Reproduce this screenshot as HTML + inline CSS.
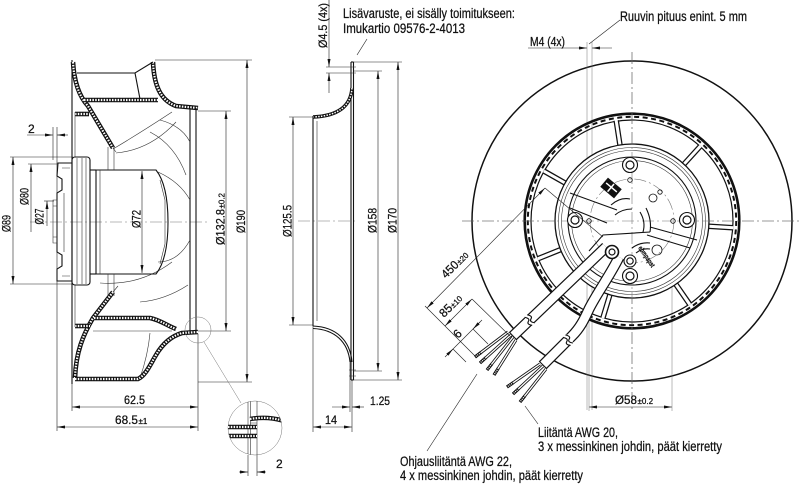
<!DOCTYPE html>
<html><head><meta charset="utf-8">
<style>
html,body{margin:0;padding:0;background:#fff;}
svg{display:block}
text{font-family:"Liberation Sans",sans-serif;fill:#111;stroke:#111;stroke-width:0.25}
.o{fill:none;stroke:#111;stroke-width:1.1}
.t{fill:none;stroke:#333;stroke-width:0.6}
.d{fill:none;stroke:#222;stroke-width:0.6}
.g{fill:none;stroke:#777;stroke-width:0.5}
.c{fill:none;stroke:#777;stroke-width:0.6;stroke-dasharray:12 3 2 3}
.hb{fill:none;stroke:#111;stroke-width:4.6}
.hw{fill:none;stroke:#fff;stroke-width:2.2;stroke-dasharray:1.5 1.3}
.cb{fill:none;stroke:#111;stroke-width:11;stroke-linecap:butt}
.cw{fill:none;stroke:#fff;stroke-width:8.6;stroke-linecap:butt}
.wb{fill:none;stroke:#111;stroke-width:3}
.ww{fill:none;stroke:#fff;stroke-width:1.3}
.sb{fill:none;stroke:#111;stroke-width:3.2}
.sw{fill:none;stroke:#fff;stroke-width:1.3;stroke-dasharray:1 1}
</style></head><body>
<svg width="800" height="484" viewBox="0 0 800 484" xmlns="http://www.w3.org/2000/svg">
<defs>
<marker id="a" viewBox="0 0 8 3" refX="8" refY="1.5" markerWidth="8" markerHeight="3" markerUnits="userSpaceOnUse" orient="auto-start-reverse"><path d="M0,0 L8,1.5 L0,3 z" fill="#111"/></marker>
<path id="b1" d="M73,62 C74,80 78,95 88,106 L113,148"/>
<path id="b2" d="M84,100 L158,100"/>
<path id="b3" d="M153,62 C154,85 160,100 176,106 L198,108"/>
<path id="b4" d="M113,292 L93,318 C83,335 76,352 75,378"/>
<path id="b5" d="M75,379 L138,379 C146,375 150,365 156,355 C163,343 172,336 182,333 L198,332"/>
<path id="b6" d="M94,318 L150,318 C160,320 166,325 176,329"/>
<path id="b7" d="M75,114 L89,114"/>
<path id="b8" d="M75,326 L90,326"/>
<path id="b9" d="M352,88 C351,106 338,116 313,117"/>
<path id="d1" d="M228,427 L257,427"/>
<path id="d2" d="M228,436 L257,436"/>
<path id="d3" d="M250,419 Q268,416 284,421"/>
<path id="c1" d="M606,247 L513,336"/>
<path id="c2" d="M619,257 C611,274 597,293 589,309 C584,320 580,328 572,336 L543,365"/>
<clipPath id="dc"><circle cx="255" cy="428" r="27"/></clipPath>
</defs>

<!-- ============ CENTER LINES ============ -->
<line class="c" x1="30" y1="222" x2="210" y2="222"/>
<line class="c" x1="298" y1="221" x2="358" y2="221"/>
<line class="c" x1="462" y1="221" x2="800" y2="221"/>
<line class="c" x1="632" y1="52" x2="632" y2="412"/>

<!-- ============ SIDE VIEW ============ -->
<line class="o" x1="72" y1="60" x2="72" y2="384"/>
<g>
<use href="#b1" class="hb"/><use href="#b1" class="hw"/>
<use href="#b2" class="hb"/><use href="#b2" class="hw"/>
<use href="#b3" class="hb"/><use href="#b3" class="hw"/>
<use href="#b4" class="hb"/><use href="#b4" class="hw"/>
<use href="#b5" class="hb"/><use href="#b5" class="hw"/>
<use href="#b6" class="hb"/><use href="#b6" class="hw"/>
<use href="#b7" class="hb"/><use href="#b7" class="hw"/>
<use href="#b8" class="hb"/><use href="#b8" class="hw"/>
</g>
<path class="o" d="M77,73 L135,73 L153,62 M135,73 L140,99"/>
<line class="o" x1="190" y1="108" x2="190" y2="333"/>
<line class="o" x1="196" y1="108" x2="196" y2="333"/>
<line class="t" x1="75" y1="112" x2="75" y2="157"/>
<line class="t" x1="75" y1="285" x2="75" y2="327"/>
<!-- vanes -->
<path class="t" d="M113,149 Q140,133 172,112"/>
<path class="t" d="M116,153 Q150,150 176,122"/>
<path class="t" d="M160,120 Q182,126 190,142"/>
<path class="t" d="M150,132 Q175,145 186,175"/>
<path class="t" d="M158,172 Q180,182 190,200"/>
<path class="t" d="M158,262 Q178,262 190,240"/>
<path class="t" d="M100,283 Q140,286 172,262"/>
<path class="t" d="M140,302 Q165,300 188,285"/>
<path class="t" d="M150,333 Q148,355 140,378"/>
<path class="t" d="M93,331 L172,331"/>
<path class="t" d="M113,148 L116,152 M113,292 L118,286"/>
<!-- rotor -->
<path class="o" d="M96,170 L156,170 Q168,185 168,222 Q168,259 156,274 L96,274 Z"/>
<line class="t" x1="100" y1="170" x2="100" y2="274"/>
<path class="t" d="M108,147 L108,170 M114,147 L114,170 M108,274 L108,296 M114,274 L114,296"/>
<path class="t" d="M160,180 L165,200 L165,244 L160,264"/>
<!-- flange -->
<rect class="o" x="72" y="157" width="18" height="128" rx="3"/>
<line class="t" x1="77" y1="158" x2="77" y2="284"/>
<line class="t" x1="82" y1="158" x2="82" y2="284"/>
<line class="t" x1="86" y1="158" x2="86" y2="284"/>
<line class="o" x1="90" y1="170" x2="96" y2="170"/>
<line class="o" x1="90" y1="274" x2="96" y2="274"/>
<!-- electronics -->
<path class="o" d="M72,163 L58,163 L57,176 L62,179 L62,190 L57,193 L57,252 L62,255 L62,266 L57,269 L57,281 L72,281"/>
<path class="t" d="M62,168 L70,168 M62,276 L70,276 M64,193 L64,252 M53,200 L57,200 L57,243 L53,243 Z M53,206 L57,206 M53,237 L57,237"/>

<!-- side dims -->
<line class="d" x1="155" y1="60" x2="252" y2="60"/>
<line class="d" x1="198" y1="382" x2="252" y2="382"/>
<line class="d" x1="247" y1="60" x2="247" y2="382" marker-start="url(#a)" marker-end="url(#a)"/>
<line class="d" x1="198" y1="111" x2="231" y2="111"/>
<line class="d" x1="198" y1="331" x2="231" y2="331"/>
<line class="d" x1="226" y1="111" x2="226" y2="331" marker-start="url(#a)" marker-end="url(#a)"/>
<line class="d" x1="142" y1="171" x2="142" y2="273" marker-start="url(#a)" marker-end="url(#a)"/>
<line class="d" x1="10" y1="157" x2="73" y2="157"/>
<line class="d" x1="10" y1="284" x2="72" y2="284"/>
<line class="d" x1="13" y1="157" x2="13" y2="284" marker-start="url(#a)" marker-end="url(#a)"/>
<line class="d" x1="28" y1="164" x2="58" y2="164"/>
<line class="d" x1="31" y1="232" x2="31" y2="164" marker-end="url(#a)"/>
<line class="d" x1="44" y1="201" x2="54" y2="201"/>
<line class="d" x1="47" y1="226" x2="47" y2="201" marker-end="url(#a)"/>
<!-- "2" top -->
<line class="d" x1="53" y1="127" x2="53" y2="160"/>
<line class="d" x1="57" y1="127" x2="57" y2="431"/>
<line class="d" x1="27" y1="135" x2="53" y2="135" marker-end="url(#a)"/>
<line class="d" x1="68" y1="135" x2="57" y2="135" marker-end="url(#a)"/>
<text x="28" y="133" font-size="12">2</text>
<!-- 62.5 / 68.5 -->
<line class="d" x1="72" y1="384" x2="72" y2="411"/>
<line class="d" x1="198" y1="334" x2="198" y2="431"/>
<line class="d" x1="72" y1="407" x2="198" y2="407" marker-start="url(#a)" marker-end="url(#a)"/>
<line class="d" x1="57" y1="427" x2="198" y2="427" marker-start="url(#a)" marker-end="url(#a)"/>
<text x="124" y="404" font-size="12" textLength="21" lengthAdjust="spacingAndGlyphs">62.5</text>
<text x="115" y="424" font-size="12" textLength="23" lengthAdjust="spacingAndGlyphs">68.5</text>
<text x="138.5" y="424" font-size="8">±1</text>

<g transform="translate(245,221.5) rotate(-90)"><text x="-11.5" y="0" font-size="12" textLength="23" lengthAdjust="spacingAndGlyphs">Ø190</text></g>
<g transform="translate(224.5,221) rotate(-90)"><text x="-24" y="0" font-size="12" textLength="36" lengthAdjust="spacingAndGlyphs">Ø132.8</text><text x="12.5" y="0" font-size="8">±0.2</text></g>
<g transform="translate(140.5,219) rotate(-90)"><text x="-9" y="0" font-size="12" textLength="18" lengthAdjust="spacingAndGlyphs">Ø72</text></g>
<g transform="translate(10.5,223.5) rotate(-90)"><text x="-8.5" y="0" font-size="12" textLength="17" lengthAdjust="spacingAndGlyphs">Ø89</text></g>
<g transform="translate(28.5,196.5) rotate(-90)"><text x="-8.5" y="0" font-size="12" textLength="17" lengthAdjust="spacingAndGlyphs">Ø80</text></g>
<g transform="translate(43.5,216.5) rotate(-90)"><text x="-8" y="0" font-size="12" textLength="16" lengthAdjust="spacingAndGlyphs">Ø27</text></g>

<!-- detail circles -->
<circle class="g" cx="198" cy="330" r="13"/>
<line class="g" x1="204" y1="342" x2="241" y2="403"/>
<circle class="g" cx="255" cy="428" r="27"/>
<g clip-path="url(#dc)">
<line class="t" x1="248" y1="398" x2="248" y2="458"/>
<line class="t" x1="250.5" y1="398" x2="250.5" y2="458"/>
<line class="t" x1="257" y1="398" x2="257" y2="458"/>
<use href="#d1" class="hb"/><use href="#d1" class="hw"/>
<use href="#d2" class="hb"/><use href="#d2" class="hw"/>
<use href="#d3" class="hb"/><use href="#d3" class="hw"/>
<line class="t" x1="250" y1="423" x2="257" y2="423"/>
</g>
<line class="d" x1="248" y1="455" x2="248" y2="476"/>
<line class="d" x1="257" y1="455" x2="257" y2="476"/>
<line class="d" x1="239" y1="472" x2="248" y2="472" marker-end="url(#a)"/>
<line class="d" x1="266" y1="472" x2="257" y2="472" marker-end="url(#a)"/>
<text x="276" y="468" font-size="12">2</text>

<!-- ============ MIDDLE VIEW (inlet nozzle) ============ -->
<line class="o" x1="351" y1="62" x2="351" y2="380"/>
<line class="o" x1="353.5" y1="62" x2="353.5" y2="380"/>
<line class="o" x1="351" y1="62" x2="353.5" y2="62"/>
<line class="o" x1="351" y1="380" x2="353.5" y2="380"/>
<path class="t" d="M349,67 L356,67 M349,73 L356,73 M349,370 L356,370 M349,376 L356,376"/>
<use href="#b9" class="hb" style="stroke-width:3.6"/><use href="#b9" class="hw" style="stroke-width:1.5"/>
<line class="o" x1="313" y1="116" x2="313" y2="326"/>
<line class="t" x1="317" y1="121" x2="317" y2="321"/>
<path class="o" d="M313,326 C336,327 350,340 352,362"/>
<path class="o" d="M313,328.5 C335,329.5 348,342 350,362"/>
<!-- middle dims -->
<line class="d" x1="329" y1="0" x2="329" y2="67" marker-end="url(#a)"/>
<line class="d" x1="329" y1="93" x2="329" y2="73" marker-end="url(#a)"/>
<line class="d" x1="326" y1="67" x2="349" y2="67"/>
<line class="d" x1="326" y1="73" x2="349" y2="73"/>
<g transform="translate(327,25.5) rotate(-90)"><text x="-22.5" y="0" font-size="12" textLength="45" lengthAdjust="spacingAndGlyphs">Ø4.5 (4x)</text></g>
<line class="d" x1="289" y1="117" x2="313" y2="117"/>
<line class="d" x1="289" y1="325" x2="313" y2="325"/>
<line class="d" x1="293" y1="117" x2="293" y2="325" marker-start="url(#a)" marker-end="url(#a)"/>
<line class="d" x1="353" y1="62" x2="402" y2="62"/>
<line class="d" x1="353" y1="71" x2="382" y2="71"/>
<line class="d" x1="353" y1="371" x2="382" y2="371"/>
<line class="d" x1="353" y1="380" x2="402" y2="380"/>
<line class="d" x1="378" y1="71" x2="378" y2="371" marker-start="url(#a)" marker-end="url(#a)"/>
<line class="d" x1="398" y1="62" x2="398" y2="380" marker-start="url(#a)" marker-end="url(#a)"/>
<g transform="translate(291.5,221) rotate(-90)"><text x="-16" y="0" font-size="12" textLength="32" lengthAdjust="spacingAndGlyphs">Ø125.5</text></g>
<g transform="translate(376.5,220.5) rotate(-90)"><text x="-12.5" y="0" font-size="12" textLength="25" lengthAdjust="spacingAndGlyphs">Ø158</text></g>
<g transform="translate(396.5,220.5) rotate(-90)"><text x="-12.5" y="0" font-size="12" textLength="25" lengthAdjust="spacingAndGlyphs">Ø170</text></g>
<line class="d" x1="313" y1="326" x2="313" y2="432"/>
<line class="d" x1="350" y1="362" x2="350" y2="412"/>
<line class="d" x1="352" y1="380" x2="352" y2="432"/>
<line class="d" x1="332" y1="407" x2="350" y2="407" marker-end="url(#a)"/>
<line class="d" x1="364" y1="407" x2="352" y2="407" marker-end="url(#a)"/>
<text x="370" y="405" font-size="12" textLength="20" lengthAdjust="spacingAndGlyphs">1.25</text>
<line class="d" x1="313" y1="427" x2="352" y2="427" marker-start="url(#a)" marker-end="url(#a)"/>
<text x="325" y="424" font-size="12" textLength="12" lengthAdjust="spacingAndGlyphs">14</text>
<!-- labels top middle -->
<text x="343" y="18" font-size="13.5" textLength="172" lengthAdjust="spacingAndGlyphs">Lisävaruste, ei sisälly toimitukseen:</text>
<text x="343" y="33" font-size="13.5" textLength="122" lengthAdjust="spacingAndGlyphs">Imukartio 09576-2-4013</text>
<line class="d" x1="367" y1="39" x2="357" y2="55"/>

<!-- ============ FRONT VIEW ============ -->
<circle class="o" cx="632" cy="221" r="160" style="stroke-width:1.5"/>
<!-- M4 / Ø58 vertical lines -->
<line class="g" x1="587" y1="42" x2="587" y2="410"/>
<line class="g" x1="592" y1="42" x2="592" y2="410"/>
<line class="g" x1="589" y1="300" x2="589" y2="411"/>
<line class="g" x1="672" y1="235" x2="672" y2="411"/>
<!-- ring -->
<circle cx="632" cy="221" r="107.3" fill="none" stroke="#111" stroke-width="2.6"/>
<circle cx="632" cy="221" r="101" fill="none" stroke="#111" stroke-width="1.2"/>
<circle cx="632" cy="221" r="104.2" fill="none" stroke="#111" stroke-width="2" stroke-dasharray="5 3.5"/>
<!-- spokes -->
<g stroke-linecap="butt">
<g stroke="#111" stroke-width="5.5">
<line x1="619.96" y1="144.95" x2="616.2" y2="120.5"/>
<line x1="683.95" y1="164.17" x2="700.1" y2="146.45"/>
<line x1="708.8" y1="226.2" x2="732.8" y2="227.8"/>
<line x1="675.85" y1="284.3" x2="689.5" y2="304.0"/>
<line x1="609.9" y1="294.75" x2="603.0" y2="317.7"/>
<line x1="560.5" y1="249.7" x2="538.3" y2="258.6"/>
<line x1="565.0" y1="183.0" x2="544.2" y2="171.2"/>
</g>
<g stroke="#fff" stroke-width="3">
<line x1="620.3" y1="147" x2="616.1" y2="120"/>
<line x1="682.5" y1="165.7" x2="700.5" y2="146"/>
<line x1="706.8" y1="226.1" x2="733.3" y2="227.8"/>
<line x1="674.7" y1="282.6" x2="689.8" y2="304.5"/>
<line x1="610.5" y1="292.8" x2="602.8" y2="318.2"/>
<line x1="562.4" y1="248.9" x2="537.8" y2="258.8"/>
<line x1="566.8" y1="184" x2="543.8" y2="171"/>
</g>
</g>
<!-- hub -->
<circle cx="632" cy="221" r="77" fill="#fff" stroke="#111" stroke-width="1.3"/>
<circle class="t" cx="632" cy="221" r="73.5"/>
<circle class="t" cx="632" cy="221" r="70.5"/>
<circle cx="632" cy="221" r="64" fill="none" stroke="#111" stroke-width="1.1"/>
<circle class="t" cx="632" cy="221" r="60.5"/>
<circle class="c" cx="632" cy="221" r="42"/>
<line class="c" x1="462" y1="221" x2="800" y2="221"/>
<line class="c" x1="632" y1="52" x2="632" y2="412"/>
<!-- bosses -->
<g fill="#fff" stroke="#111" stroke-width="1.1">
<circle cx="630" cy="165" r="7.5"/><circle cx="575" cy="220" r="7.5"/><circle cx="687" cy="220" r="7.5"/><circle cx="630" cy="276" r="7.5"/><circle cx="630" cy="261" r="6"/>
</g>
<g fill="none" stroke="#111" stroke-width="1.2">
<circle cx="630" cy="165" r="4"/><circle cx="575" cy="220" r="4"/><circle cx="687" cy="220" r="4"/><circle cx="630" cy="276" r="4"/><circle cx="630" cy="261" r="3.2"/>
</g>
<g fill="none" stroke="#111" stroke-width="0.8">
<circle cx="630" cy="180" r="2.3"/><circle cx="589" cy="221" r="2.3"/><circle cx="673" cy="221" r="2.3"/><circle cx="660" cy="192" r="2.2"/>
<circle cx="653" cy="198" r="4"/><circle cx="657" cy="250" r="5"/>
</g>
<!-- bars -->
<path class="o" d="M570,193 L617,210 M570,208 L607,223 M650,227 L697,240 M647,235 L690,248"/>
<path class="o" d="M611,205 Q620,197 630,199 M615,215 Q622,209 632,209"/>
<path class="o" d="M646,208 Q652,220 650,232 M640,212 Q646,222 643,232"/>
<path class="o" d="M632,248 Q640,242 650,243 M636,253 Q642,248 650,249"/>
<!-- label -->
<g transform="translate(611,188) rotate(40)">
<rect x="-9" y="-6" width="18" height="12" fill="#111"/>
<rect x="-7" y="-1.5" width="14" height="1.5" fill="#fff"/>
<rect x="-1" y="-5" width="1.5" height="10" fill="#fff"/>
</g>
<text transform="translate(638,248) rotate(56)" font-size="7" font-weight="bold" textLength="24" lengthAdjust="spacingAndGlyphs">ebmpapst</text>
<!-- clamp -->
<path class="o" d="M589,251 L603,235 L650,232"/>
<!-- cables -->
<use href="#c1" class="cb"/><use href="#c1" class="cw"/>
<use href="#c2" class="cb"/><use href="#c2" class="cw"/>
<line class="o" x1="516.8" y1="340" x2="509.2" y2="332"/>
<line class="o" x1="546.9" y1="368.9" x2="539.1" y2="361.1"/>
<!-- breaks -->
<path d="M527,314 L535,323 L532,326 L524,317 Z" fill="#fff"/>
<path class="o" d="M527.2,314.8 Q533,316 531,318.8 Q529,322 534.8,322.8"/>
<path class="o" d="M524.6,317.3 Q530.4,318.5 528.4,321.3 Q526.4,324.5 532.2,325.3"/>
<path d="M566,334 L574,343 L571,346 L563,337 Z" fill="#fff"/>
<path class="o" d="M565.4,335 Q571.2,336.2 569.2,339 Q567.2,342.2 573,343"/>
<path class="o" d="M563,337.4 Q568.8,338.6 566.8,341.4 Q564.8,344.6 570.6,345.4"/>
<!-- gland -->
<circle cx="612" cy="252" r="6.5" fill="#fff" stroke="#111" stroke-width="1.6"/>
<circle cx="612" cy="252" r="3" fill="none" stroke="#111" stroke-width="1.2"/>
<!-- wires -->
<g>
<path class="wb" d="M508,332 L475,357 M511,335 L480,363 M513,337 L487,370 M516,340 L494,375"/>
<path class="ww" d="M508,332 L475,357 M511,335 L480,363 M513,337 L487,370 M516,340 L494,375"/>
<path class="sb" d="M481.4,352.2 L475,357 M485.9,357.6 L480,363 M492,363.7 L487,370 M498.3,368.2 L494,375"/>
<path class="sw" d="M481.4,352.2 L475,357 M485.9,357.6 L480,363 M492,363.7 L487,370 M498.3,368.2 L494,375"/>
<path class="wb" d="M540,364 L507,387 M543,366 L513,394 M546,369 L520,402"/>
<path class="ww" d="M540,364 L507,387 M543,366 L513,394 M546,369 L520,402"/>
<path class="sb" d="M513.6,382.4 L507,387 M518.9,388.5 L513,394 M525,395.7 L520,402"/>
<path class="sw" d="M513.6,382.4 L507,387 M518.9,388.5 L513,394 M525,395.7 L520,402"/>
</g>
<!-- lower-left dims -->
<line class="d" x1="427" y1="308" x2="545" y2="188" marker-start="url(#a)" marker-end="url(#a)"/>
<line class="d" x1="545" y1="188" x2="603" y2="237"/>
<line class="d" x1="425" y1="306" x2="477" y2="358"/>
<line class="d" x1="445" y1="326" x2="472" y2="299" marker-start="url(#a)" marker-end="url(#a)"/>
<line class="d" x1="472" y1="299" x2="510" y2="336"/>
<line class="d" x1="447" y1="355" x2="480" y2="322"/>
<line class="d" x1="445" y1="357" x2="453" y2="349" marker-end="url(#a)"/>
<line class="d" x1="482" y1="320" x2="473" y2="329" marker-end="url(#a)"/>
<line class="d" x1="473" y1="329" x2="488" y2="344"/>
<line class="d" x1="453" y1="349" x2="466" y2="362"/>
<g transform="translate(446,279) rotate(-45)"><text x="0" y="0" font-size="12" textLength="19" lengthAdjust="spacingAndGlyphs">450</text><text x="19.5" y="0" font-size="8">±20</text></g>
<g transform="translate(444,318) rotate(-45)"><text x="0" y="0" font-size="12" textLength="13" lengthAdjust="spacingAndGlyphs">85</text><text x="13.5" y="0" font-size="8">±10</text></g>
<g transform="translate(458,339) rotate(-45)"><text x="0" y="0" font-size="12">6</text></g>
<!-- leaders -->
<line class="d" x1="477" y1="374" x2="427" y2="451"/>
<line class="d" x1="525" y1="406" x2="538" y2="424"/>
<!-- Ø58 -->
<line class="d" x1="589" y1="407" x2="672" y2="407" marker-start="url(#a)" marker-end="url(#a)"/>
<text x="615" y="404" font-size="12" textLength="22" lengthAdjust="spacingAndGlyphs">Ø58</text>
<text x="637.5" y="404" font-size="8">±0.2</text>
<!-- M4 -->
<line class="d" x1="528" y1="48" x2="587" y2="48" marker-end="url(#a)"/>
<line class="d" x1="612" y1="48" x2="592" y2="48" marker-end="url(#a)"/>
<text x="530" y="46" font-size="12.5" textLength="35" lengthAdjust="spacingAndGlyphs">M4 (4x)</text>
<text x="620" y="21" font-size="13.5" textLength="127" lengthAdjust="spacingAndGlyphs">Ruuvin pituus enint. 5 mm</text>
<line class="d" x1="620" y1="20" x2="589" y2="44"/>
<!-- bottom labels -->
<text x="538" y="437" font-size="13.5" textLength="80" lengthAdjust="spacingAndGlyphs">Liitäntä AWG 20,</text>
<text x="538" y="451" font-size="13.5" textLength="184" lengthAdjust="spacingAndGlyphs">3 x messinkinen johdin, päät kierretty</text>
<text x="400" y="466" font-size="13.5" textLength="112" lengthAdjust="spacingAndGlyphs">Ohjausliitäntä AWG 22,</text>
<text x="400" y="480" font-size="13.5" textLength="183" lengthAdjust="spacingAndGlyphs">4 x messinkinen johdin, päät kierretty</text>
</svg>
</body></html>
